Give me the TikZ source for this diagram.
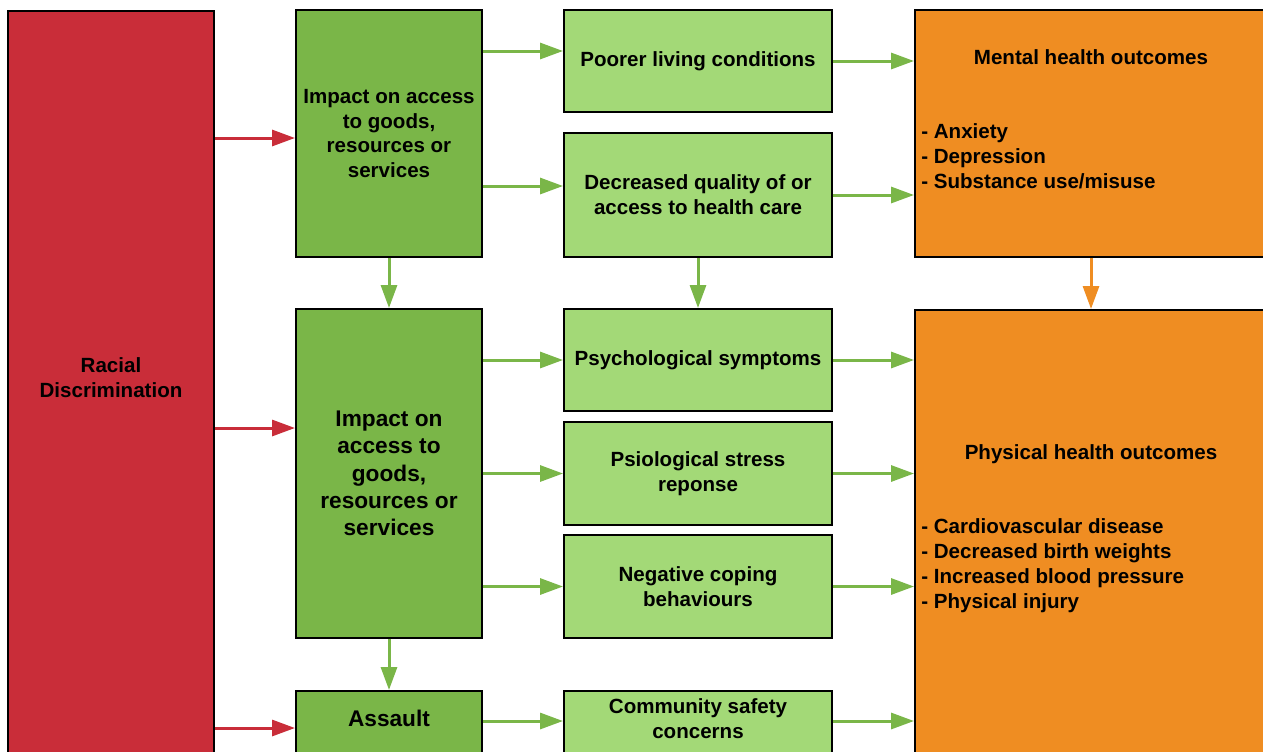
\documentclass[tikz,border=0pt]{standalone}
\usepackage{fontspec}
\setmainfont{Liberation Sans}
\usetikzlibrary{arrows.meta}

\definecolor{racered}{HTML}{C92D39}
\definecolor{darkgreen}{HTML}{7AB648}
\definecolor{lightgreen}{HTML}{A3D977}
\definecolor{outcomeorange}{HTML}{EF8D22}

\begin{document}
\begin{tikzpicture}[x=0.02cm, y=-0.02cm,
    box/.style={rectangle, draw=black, line width=0.04cm, inner sep=0pt},
    redbox/.style={box, fill=racered, minimum width=4.12cm},
    darkbox/.style={box, fill=darkgreen, minimum width=3.72cm, align=center,
      font=\bfseries\fontsize{12.9}{15.5}\selectfont},
    lightbox/.style={box, fill=lightgreen, minimum width=5.36cm, align=center,
      font=\bfseries\fontsize{11.7}{14.2}\selectfont},
    orangebox/.style={box, fill=outcomeorange, minimum width=7.04cm},
    boxtext/.style={inner sep=0pt, font=\bfseries\fontsize{11.7}{14.2}\selectfont},
    bigtext/.style={inner sep=0pt, font=\bfseries\fontsize{12.9}{15.5}\selectfont},
    arrowbase/.style={line width=0.06cm, -{Triangle[length=0.46cm, width=0.32cm]}},
    greenarrow/.style={arrowbase, draw=darkgreen, fill=darkgreen},
    redarrow/.style={arrowbase, draw=racered, fill=racered},
    orangearrow/.style={arrowbase, draw=outcomeorange, fill=outcomeorange}]
    \useasboundingbox (0,0) rectangle (1263,751);
    \clip (0,0) rectangle (1263,751);

    % left column
    \node[redbox, anchor=north, minimum height=15.8cm] (racial) at (111,10) {};
    \node[boxtext, align=center] (racialtext) at (111,378) {Racial\\Discrimination};

    % access / assault column
    \node[darkbox, font=\bfseries\fontsize{11.7}{14.2}\selectfont, minimum height=4.94cm] (access1) at (389,133.5)
      {Impact on access\\to goods,\\resources or\\services};
    \node[darkbox, minimum height=6.58cm] (access2) at (389,473.5)
      {Impact on\\access to\\goods,\\resources or\\services};
    \node[darkbox, anchor=north, minimum height=2.2cm] (assault) at (389,690) {};
    \node[bigtext] (assaulttext) at (389,718) {Assault};

    % pathway column
    \node[lightbox, minimum height=2.04cm] (living) at (698,61) {Poorer living conditions};
    \node[lightbox, minimum height=2.48cm] (care) at (698,195) {Decreased quality of or\\access to health care};
    \node[lightbox, minimum height=2.04cm] (psych) at (698,360) {Psychological symptoms};
    \node[lightbox, minimum height=2.06cm] (stress) at (698,473.5) {Psiological stress\\reponse};
    \node[lightbox, minimum height=2.06cm] (coping) at (698,586.5) {Negative coping\\behaviours};
    \node[lightbox, anchor=north, minimum height=2.2cm] (safety) at (698,690) {};
    \node[boxtext, align=center] (safetytext) at (698,718.5) {Community safety\\concerns};

    % outcome column
    \node[orangebox, minimum height=4.94cm] (mental) at (1091,133.5) {};
    \node[boxtext] (mentaltitle) at (1091,57) {Mental health outcomes};
    \node[boxtext, anchor=west, align=left] (mentallist) at (921,156)
      {- Anxiety\\- Depression\\- Substance use/misuse};
    \node[orangebox, anchor=north, minimum height=10cm] (physical) at (1091,309) {};
    \node[boxtext] (physicaltitle) at (1091,454) {Physical health outcomes};
    \node[boxtext, anchor=west, align=left] (physicallist) at (921,566)
      {- Cardiovascular disease\\- Decreased birth weights\\- Increased blood pressure\\- Physical injury};

    % arrows
    \draw[redarrow] (racial.east |- 0,138) -- (access1.west |- 0,138);
    \draw[redarrow] (racial.east |- 0,428) -- (access2.west |- 0,428);
    \draw[redarrow] (racial.east |- 0,728) -- (assault.west |- 0,728);

    \draw[greenarrow] (access1.east |- 0,51) -- (living.west |- 0,51);
    \draw[greenarrow] (access1.east |- 0,186) -- (care.west |- 0,186);
    \draw[greenarrow] (access1) -- (access2);
    \draw[greenarrow] (care) -- (psych);
    \draw[greenarrow] (access2.east |- psych) -- (psych);
    \draw[greenarrow] (access2.east |- stress) -- (stress);
    \draw[greenarrow] (access2.east |- coping) -- (coping);
    \draw[greenarrow] (access2.south) -- (assault.north);
    \draw[greenarrow] (assault.east |- 0,721) -- (safety.west |- 0,721);

    \draw[greenarrow] (living) -- (mental.west |- living);
    \draw[greenarrow] (care) -- (mental.west |- care);
    \draw[greenarrow] (psych) -- (physical.west |- psych);
    \draw[greenarrow] (stress) -- (physical.west |- stress);
    \draw[greenarrow] (coping) -- (physical.west |- coping);
    \draw[greenarrow] (safety.east |- 0,721) -- (physical.west |- 0,721);
    \draw[orangearrow] (mental) -- (physical.north);
\end{tikzpicture}
\end{document}
